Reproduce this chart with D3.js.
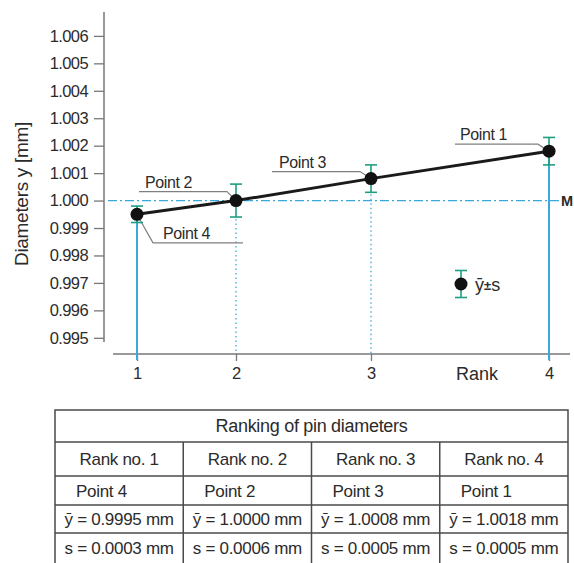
<!DOCTYPE html>
<html>
<head>
<meta charset="utf-8">
<script src="https://cdn.jsdelivr.net/npm/d3@7"></script>
<style>
    body { margin: 0; background: #fff; }
    svg { display: block; font-family: "Liberation Sans", Arial, sans-serif; }
</style>
</head>
<body>
<svg id="chart" width="574" height="563"></svg>
<script>
const ranks = [1, 2, 3, 4];
const pointNames = ["Point 4", "Point 2", "Point 3", "Point 1"];
const means = [0.9995, 1.0000, 1.0008, 1.0018];
const sds = [0.0003, 0.0006, 0.0005, 0.0005];
const yTicks = [0.995, 0.996, 0.997, 0.998, 0.999, 1.000, 1.001, 1.002, 1.003, 1.004, 1.005, 1.006];
const refValue = 1.000;
const rankLineDotted = [false, true, true, false];

const tableTitle = "Ranking of pin diameters";
const rankHeaders = ["Rank no. 1", "Rank no. 2", "Rank no. 3", "Rank no. 4"];
const meanTexts = ["ȳ = 0.9995 mm", "ȳ = 1.0000 mm", "ȳ = 1.0008 mm", "ȳ = 1.0018 mm"];
const sdTexts = ["s = 0.0003 mm", "s = 0.0006 mm", "s = 0.0005 mm", "s = 0.0005 mm"];

const svg = d3.select("#chart");
const axisColor = "#777",
    blue = "#3aa8dc",
    green = "#1f9e80",
    leaderColor = "#808080",
    textColor = "#2b2b2b";

const x = d3.scaleLinear().domain(ranks).range([137, 236, 371, 549]);
const y = d3.scaleLinear().domain([0.995, 1.006]).range([337.8, 35.9]);
const xAxisY = 354,
    yAxisX = 104;

const pts = ranks.map((r, i) => ({
    rank: r,
    name: pointNames[i],
    mean: means[i],
    sd: sds[i],
    dotted: rankLineDotted[i]
}));

// y axis
const gy = svg.append("g").attr("transform", `translate(${yAxisX},0)`);
gy.append("line")
    .attr("y1", 12)
    .attr("y2", 342)
    .attr("stroke", axisColor)
    .attr("stroke-width", 1.5);
gy.call(
    d3.axisLeft(y)
        .tickValues(yTicks)
        .tickFormat(d3.format(".3f"))
        .tickSize(10)
        .tickPadding(6)
);
gy.select(".domain").remove();
gy.selectAll(".tick line").attr("stroke", axisColor).attr("stroke-width", 1.3);
gy.selectAll(".tick text")
    .attr("fill", textColor)
    .style("font-size", "16.5px")
    .style("letter-spacing", "-0.6px");

svg.append("text")
    .attr("transform", `translate(28,194) rotate(-90)`)
    .attr("text-anchor", "middle")
    .attr("fill", textColor)
    .style("font-size", "19px")
    .style("letter-spacing", "-0.3px")
    .text("Diameters y [mm]");

// x axis
const gx = svg.append("g").attr("transform", `translate(0,${xAxisY})`);
gx.append("line")
    .attr("x1", 113)
    .attr("x2", 570)
    .attr("stroke", axisColor)
    .attr("stroke-width", 1.5);
gx.call(d3.axisBottom(x).tickValues(ranks).tickFormat(d3.format("d")).tickSize(7).tickPadding(6));
gx.select(".domain").remove();
gx.selectAll(".tick line").attr("stroke", axisColor).attr("stroke-width", 1.3);
gx.selectAll(".tick text").attr("fill", textColor).style("font-size", "16.5px");

svg.append("text")
    .attr("x", 456)
    .attr("y", 380)
    .attr("fill", textColor)
    .style("font-size", "18px")
    .text("Rank");

// reference line M
svg.append("line")
    .attr("x1", 108)
    .attr("x2", 559)
    .attr("y1", y(refValue))
    .attr("y2", y(refValue))
    .attr("stroke", blue)
    .attr("stroke-width", 1.3)
    .attr("stroke-dasharray", "9,3,2,3");
svg.append("text")
    .attr("x", 561)
    .attr("y", y(refValue))
    .attr("dy", "0.36em")
    .attr("fill", textColor)
    .style("font-size", "14.5px")
    .style("font-weight", "bold")
    .text("M");

// vertical rank lines
svg.selectAll(".rank-line")
    .data(pts)
    .enter()
    .append("line")
    .attr("class", "rank-line")
    .attr("x1", d => x(d.rank))
    .attr("x2", d => x(d.rank))
    .attr("y1", d => (d.dotted ? y(d.mean - d.sd) + 2 : y(d.mean)))
    .attr("y2", d => (d.dotted ? xAxisY : xAxisY + 6))
    .attr("stroke", blue)
    .attr("stroke-width", d => (d.dotted ? 1.3 : 2))
    .attr("stroke-dasharray", d => (d.dotted ? "1.5,3" : null));

// leader lines and labels
const labelLayout = {
    "Point 2": { path: [[-97, -9], [-9, -9], [0, 0]], tx: -91, ty: -13 },
    "Point 4": { path: [[1, 2], [16, 28.5], [106, 28.5]], tx: 26, ty: 25 },
    "Point 3": { path: [[-99, -7], [-11, -7], [0, 0]], tx: -92, ty: -11 },
    "Point 1": { path: [[-94, -7], [-11, -7], [0, 0]], tx: -89, ty: -11 }
};
const leader = d3.line();
const labels = svg.selectAll(".label")
    .data(pts)
    .enter()
    .append("g")
    .attr("class", "label")
    .attr("transform", d => `translate(${x(d.rank)},${y(d.mean)})`);
labels.append("path")
    .attr("d", d => leader(labelLayout[d.name].path))
    .attr("fill", "none")
    .attr("stroke", leaderColor)
    .attr("stroke-width", 1.2);
labels.append("text")
    .attr("x", d => labelLayout[d.name].tx)
    .attr("y", d => labelLayout[d.name].ty)
    .attr("fill", textColor)
    .style("font-size", "16px")
    .style("letter-spacing", "-0.4px")
    .text(d => d.name);

// mean line
svg.append("path")
    .datum(pts)
    .attr("d", d3.line().x(d => x(d.rank)).y(d => y(d.mean)))
    .attr("fill", "none")
    .attr("stroke", "#1a1a1a")
    .attr("stroke-width", 3);

// error bars
const drawErrorBar = (g, cx, yTop, yBot) => {
    g.append("line").attr("x1", cx).attr("x2", cx).attr("y1", yTop).attr("y2", yBot);
    g.append("line").attr("x1", cx - 6).attr("x2", cx + 6).attr("y1", yTop).attr("y2", yTop);
    g.append("line").attr("x1", cx - 6).attr("x2", cx + 6).attr("y1", yBot).attr("y2", yBot);
};
const bars = svg.append("g").attr("stroke", green).attr("stroke-width", 1.6);
pts.forEach(d => drawErrorBar(bars, x(d.rank), y(d.mean + d.sd), y(d.mean - d.sd)));

svg.selectAll(".dot")
    .data(pts)
    .enter()
    .append("circle")
    .attr("class", "dot")
    .attr("cx", d => x(d.rank))
    .attr("cy", d => y(d.mean))
    .attr("r", 6.5)
    .attr("fill", "#111");

// legend
const legend = svg.append("g").attr("transform", "translate(461,284)");
const lbars = legend.append("g").attr("stroke", green).attr("stroke-width", 1.6);
drawErrorBar(lbars, 0, -13.5, 13.5);
legend.append("circle").attr("r", 6.5).attr("fill", "#111");
legend.append("text")
    .attr("x", 14)
    .attr("y", 7)
    .attr("fill", textColor)
    .style("font-size", "18px")
    .html("ȳ<tspan font-size=\"13px\" font-weight=\"bold\" dy=\"-1\">±</tspan><tspan dy=\"1\">s</tspan>");

// table
const tLeft = 55,
    tRight = 568,
    rowEdges = [410, 442, 476, 505, 533, 566];
const colW = (tRight - tLeft) / ranks.length;
const table = svg.append("g");
const borders = table.append("g").attr("stroke", "#4a4a4a").attr("stroke-width", 1.5);
borders.append("rect")
    .attr("x", tLeft)
    .attr("y", rowEdges[0])
    .attr("width", tRight - tLeft)
    .attr("height", rowEdges[5] - rowEdges[0])
    .attr("fill", "none");
rowEdges.slice(1, 5).forEach(ry => {
    borders.append("line").attr("x1", tLeft).attr("x2", tRight).attr("y1", ry).attr("y2", ry);
});
d3.range(1, ranks.length).forEach(c => {
    borders.append("line")
        .attr("x1", tLeft + c * colW)
        .attr("x2", tLeft + c * colW)
        .attr("y1", rowEdges[1])
        .attr("y2", rowEdges[5]);
});

const cellText = (txt, cx, ry0, ry1, anchor, size) => {
    table.append("text")
        .attr("x", cx)
        .attr("y", (ry0 + ry1) / 2)
        .attr("dy", "0.36em")
        .attr("text-anchor", anchor)
        .attr("fill", textColor)
        .style("font-size", size)
        .style("letter-spacing", "-0.3px")
        .text(txt);
};
cellText(tableTitle, (tLeft + tRight) / 2, rowEdges[0], rowEdges[1], "middle", "18px");
ranks.forEach((r, i) => {
    const c0 = tLeft + i * colW;
    cellText(rankHeaders[i], c0 + colW / 2, rowEdges[1], rowEdges[2], "middle", "17px");
    cellText(pointNames[i], c0 + 21, rowEdges[2], rowEdges[3], "start", "17px");
    cellText(meanTexts[i], c0 + colW / 2, rowEdges[3], rowEdges[4], "middle", "17px");
    cellText(sdTexts[i], c0 + colW / 2, rowEdges[4], rowEdges[5] - 4, "middle", "17px");
});
</script>
</body>
</html>
